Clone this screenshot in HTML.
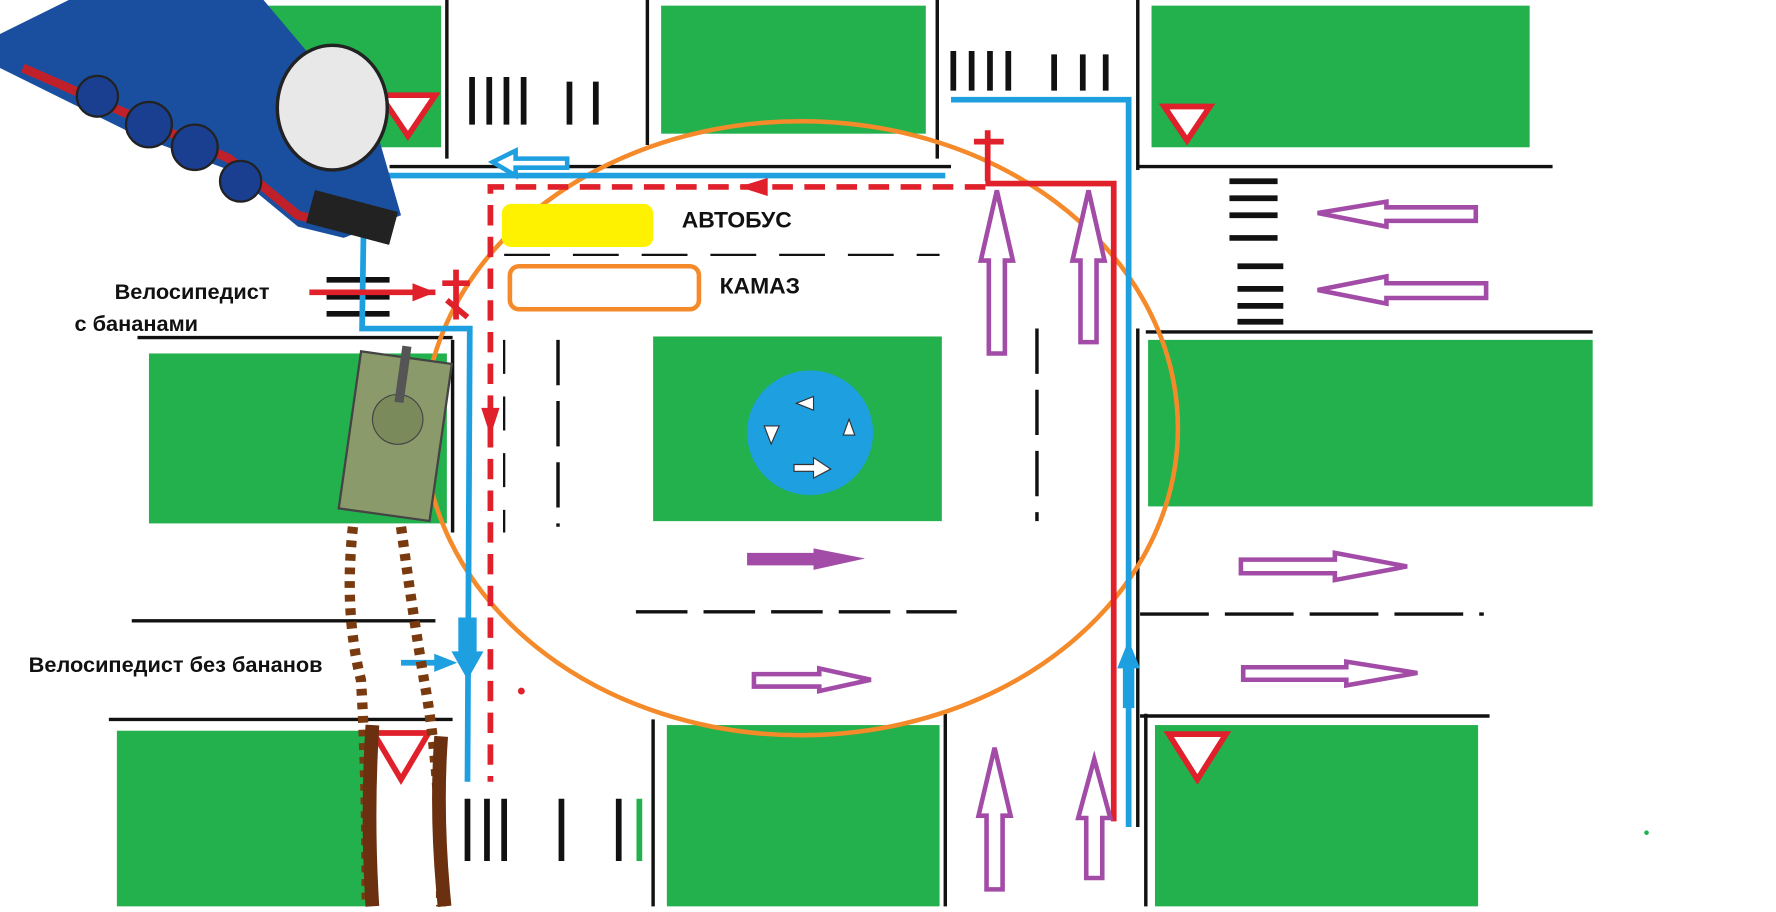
<!DOCTYPE html>
<html><head><meta charset="utf-8"><style>
html,body{margin:0;padding:0;background:#fff;width:1776px;height:912px;overflow:hidden}
svg{display:block}
text{font-family:"Liberation Sans",sans-serif;font-weight:bold;fill:#111}
</style></head><body>
<svg width="1776" height="912" viewBox="0 0 1550 805" preserveAspectRatio="none">
<rect width="1550" height="805" fill="#fff"/>
<!-- green blocks -->
<g fill="#22b14c">
<rect x="230" y="5" width="155" height="125"/>
<rect x="577" y="5" width="231" height="113"/>
<rect x="1005" y="5" width="330" height="125"/>
<rect x="130" y="312" width="260" height="150"/>
<rect x="570" y="297" width="252" height="163"/>
<rect x="1002" y="300" width="388" height="147"/>
<rect x="102" y="645" width="218" height="155"/>
<rect x="582" y="640" width="238" height="160"/>
<rect x="1008" y="640" width="282" height="160"/>
</g>
<!-- yield signs -->
<g fill="#fff" stroke="#e0202a" stroke-width="5">
<polygon points="332,84 380,84 356,120"/>
<polygon points="1016,94 1056,94 1036,124"/>
<polygon points="326,647 374,647 350,688"/>
<polygon points="1020,648 1070,648 1045,688"/>
</g>
<!-- black road lines -->
<g stroke="#111" stroke-width="3" fill="none">
<line x1="390" y1="0" x2="390" y2="140"/>
<line x1="565" y1="0" x2="565" y2="128"/>
<line x1="818" y1="0" x2="818" y2="140"/>
<line x1="993" y1="0" x2="993" y2="150"/>
<line x1="340" y1="147" x2="830" y2="147"/>
<line x1="993" y1="147" x2="1355" y2="147"/>
<line x1="1000" y1="293" x2="1390" y2="293"/>
<line x1="120" y1="298" x2="395" y2="298"/>
<line x1="395" y1="300" x2="395" y2="470"/>
<line x1="993" y1="290" x2="993" y2="730"/>
<line x1="995" y1="632" x2="1300" y2="632"/>
<line x1="95" y1="635" x2="395" y2="635"/>
<line x1="115" y1="548" x2="380" y2="548"/>
<line x1="570" y1="635" x2="570" y2="800"/>
<line x1="825" y1="630" x2="825" y2="800"/>
<line x1="1000" y1="630" x2="1000" y2="800"/>
<line x1="487" y1="300" x2="487" y2="465" stroke-dasharray="40,14"/>
<line x1="905" y1="290" x2="905" y2="460" stroke-dasharray="40,14"/>
<line x1="555" y1="540" x2="835" y2="540" stroke-dasharray="45,14"/>
<line x1="995" y1="542" x2="1295" y2="542" stroke-dasharray="60,14"/>
<line x1="440" y1="225" x2="820" y2="225" stroke-dasharray="40,20" stroke-width="2"/>
<line x1="440" y1="300" x2="440" y2="470" stroke-dasharray="30,20" stroke-width="2"/>
</g>
<!-- crosswalks -->
<g stroke="#111" stroke-width="5">
<line x1="412" y1="68" x2="412" y2="110"/><line x1="427" y1="68" x2="427" y2="110"/><line x1="442" y1="68" x2="442" y2="110"/><line x1="457" y1="68" x2="457" y2="110"/><line x1="497" y1="72" x2="497" y2="110"/><line x1="520" y1="72" x2="520" y2="110"/>
<line x1="832" y1="45" x2="832" y2="80"/><line x1="848" y1="45" x2="848" y2="80"/><line x1="864" y1="45" x2="864" y2="80"/><line x1="880" y1="45" x2="880" y2="80"/><line x1="920" y1="48" x2="920" y2="80"/><line x1="945" y1="48" x2="945" y2="80"/><line x1="965" y1="48" x2="965" y2="80"/>
<line x1="1073" y1="160" x2="1115" y2="160"/><line x1="1073" y1="175" x2="1115" y2="175"/><line x1="1073" y1="190" x2="1115" y2="190"/><line x1="1073" y1="210" x2="1115" y2="210"/><line x1="1080" y1="235" x2="1120" y2="235"/><line x1="1080" y1="255" x2="1120" y2="255"/><line x1="1080" y1="270" x2="1120" y2="270"/><line x1="1080" y1="284" x2="1120" y2="284"/>
<line x1="285" y1="247" x2="340" y2="247"/><line x1="285" y1="262" x2="340" y2="262"/><line x1="285" y1="277" x2="340" y2="277"/>
<line x1="408" y1="705" x2="408" y2="760"/><line x1="425" y1="705" x2="425" y2="760"/><line x1="440" y1="705" x2="440" y2="760"/><line x1="490" y1="705" x2="490" y2="760"/><line x1="540" y1="705" x2="540" y2="760"/><line x1="558" y1="705" x2="558" y2="760" stroke="#22b14c"/>
</g>
<!-- roundabout sign -->
<circle cx="707" cy="382" r="55" fill="#1e9fe0"/>
<g fill="#fff" stroke="#333" stroke-width="1">
<polygon points="695,356 710,350 710,362"/><polygon points="667,376 680,376 673,392"/><polygon points="736,384 746,384 741,370"/><polygon points="693,410 710,410 710,404 725,414 710,422 710,416 693,416"/>
</g>
<!-- orange ellipse -->
<ellipse cx="699" cy="378" rx="329" ry="271" fill="none" stroke="#f58a2a" stroke-width="4"/>
<!-- bus and kamaz -->
<rect x="438" y="180" width="132" height="38" rx="8" fill="#fff200"/>
<rect x="445" y="235" width="165" height="38" rx="8" fill="none" stroke="#f58a2a" stroke-width="4"/>
<text x="595" y="201" font-size="20">АВТОБУС</text>
<text x="628" y="259" font-size="20">КАМАЗ</text>
<text x="100" y="264" font-size="19">Велосипедист</text>
<text x="65" y="292" font-size="19">с бананами</text>
<text x="25" y="593" font-size="19">Велосипедист без бананов</text>
<!-- blue paths -->
<g stroke="#1e9fe0" stroke-width="5" fill="none">
<polyline points="825,155 318,155 316,290 410,290 408,690"/>
<polyline points="830,88 985,88 985,730"/>
<line x1="350" y1="585" x2="390" y2="585"/>
</g>
<polygon points="430,143 450,133 450,140 495,140 495,148 450,148 450,155" fill="#fff" stroke="#1e9fe0" stroke-width="4"/>
<polygon points="400,545 416,545 416,575 422,575 408,600 394,575 400,575" fill="#1e9fe0"/>
<polygon points="985,565 975,590 980,590 980,625 990,625 990,590 995,590" fill="#1e9fe0"/>
<polygon points="395,577 395,593 375,585" fill="#1e9fe0" transform="rotate(180 387 585)"/>
<!-- red paths -->
<g stroke="#e0202a" stroke-width="5" fill="none">
<polyline points="860,165 428,165 428,690" stroke-dasharray="18,10"/>
<polyline points="860,162 972,162 972,725"/>
<line x1="270" y1="258" x2="380" y2="258"/>
<line x1="862" y1="115" x2="862" y2="160"/><line x1="850" y1="125" x2="876" y2="125"/>
<line x1="398" y1="238" x2="398" y2="282"/><line x1="386" y1="250" x2="410" y2="250"/><line x1="390" y1="265" x2="408" y2="280"/>
</g>
<polygon points="645,165 670,157 670,173" fill="#e0202a"/>
<polygon points="428,385 420,360 436,360" fill="#e0202a"/>
<polygon points="380,258 360,250 360,266" fill="#e0202a"/>
<!-- purple arrows -->
<g fill="#fff" stroke="#a24ca8" stroke-width="4">
<polygon points="870,168 884,230 877,230 877,312 863,312 863,230 856,230"/>
<polygon points="950,168 964,230 957,230 957,302 943,302 943,230 936,230"/>
<polygon points="868,660 882,720 875,720 875,785 861,785 861,720 854,720"/>
<polygon points="955,670 969,722 962,722 962,775 948,775 948,722 941,722"/>
<polygon points="1150,188 1210,178 1210,183 1288,183 1288,195 1210,195 1210,200"/>
<polygon points="1150,256 1210,244 1210,250 1297,250 1297,263 1210,263 1210,268"/>
<polygon points="1228,500 1165,488 1165,494 1083,494 1083,506 1165,506 1165,512"/>
<polygon points="1237,594 1175,584 1175,589 1085,589 1085,600 1175,600 1175,605"/>
<polygon points="760,600 715,590 715,595 658,595 658,606 715,606 715,610"/>
</g>
<polygon points="755,493 710,484 710,488 652,488 652,499 710,499 710,503" fill="#a24ca8"/>
<!-- train -->
<g>
<path d="M0,30 L60,0 L230,0 L330,120 L350,190 L300,210 L260,200 L200,150 L120,120 L60,90 L0,60Z" fill="#1a4fa0"/>
<path d="M20,60 L200,140 L260,190 L300,200" stroke="#c0202a" stroke-width="8" fill="none"/>
<ellipse cx="290" cy="95" rx="48" ry="55" fill="#e8e8e8" stroke="#222" stroke-width="3"/>
<circle cx="85" cy="85" r="18" fill="#1a3f90" stroke="#222" stroke-width="2"/>
<circle cx="130" cy="110" r="20" fill="#1a3f90" stroke="#222" stroke-width="2"/>
<circle cx="170" cy="130" r="20" fill="#1a3f90" stroke="#222" stroke-width="2"/>
<circle cx="210" cy="160" r="18" fill="#1a3f90" stroke="#222" stroke-width="2"/>
<rect x="270" y="175" width="75" height="30" fill="#222" transform="rotate(15 300 190)"/>
</g>
<!-- tank -->
<g transform="rotate(8 345 385)">
<rect x="305" y="315" width="80" height="140" fill="#8a9a6a" stroke="#444" stroke-width="2"/>
<circle cx="345" cy="370" r="22" fill="#7a8a5a" stroke="#444"/>
<rect x="340" y="305" width="8" height="50" fill="#555"/>
</g>
<!-- brown tracks -->
<g stroke="#7a3a10" stroke-width="9" fill="none" stroke-dasharray="6,6">
<path d="M308,465 Q300,540 315,600 Q320,680 320,800"/>
<path d="M350,465 Q360,540 370,600 Q385,680 385,800"/>
</g>
<g stroke="#6b3010" stroke-width="12" fill="none">
<path d="M325,640 Q320,720 325,800"/><path d="M385,650 Q380,720 388,800"/>
</g>
<circle cx="1437" cy="735" r="2" fill="#22b14c"/>
<circle cx="455" cy="610" r="3" fill="#e0202a"/>
</svg>
</body></html>
